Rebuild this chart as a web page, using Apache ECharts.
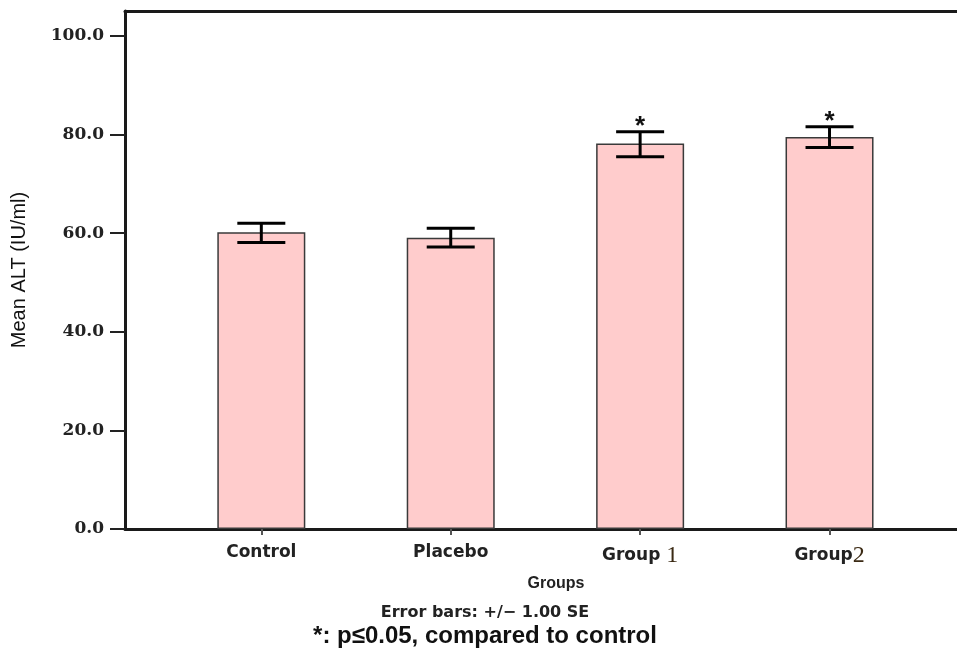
<!DOCTYPE html>
<html>
<head>
<meta charset="utf-8">
<script src="https://cdn.jsdelivr.net/npm/echarts@6/dist/echarts.min.js"></script>
<style>
html,body{margin:0;padding:0;background:#fff;}
#chart{width:957px;height:654px;}
</style>
</head>
<body>
<div id="chart"></div>
<script>
// ---- data ----
var categories = ["Control", "Placebo", "Group 1", "Group2"];
var meanALT = [60.2, 59.1, 78.2, 79.5];
var errUpper = [62.0, 61.0, 80.6, 81.6];
var errLower = [58.1, 57.2, 75.5, 77.4];
var significance = ["", "", "*", "*"];
var yTicks = [0, 20, 40, 60, 80, 100];
var catPositions = [0, 1, 2, 3];

var barData = categories.map(function (c, i) { return [catPositions[i], meanALT[i]]; });
var errData = categories.map(function (c, i) { return [catPositions[i], errLower[i], errUpper[i], i]; });

var chart = echarts.init(document.getElementById('chart'));

var option = {
  animation: false,
  backgroundColor: '#ffffff',
  grid: { left: 125, right: 0, top: 11, bottom: 125 },
  xAxis: [{
    type: 'value',
    min: -0.7197,
    max: 3.673,
    splitLine: { show: false },
    axisLine: { show: true, onZero: false, lineStyle: { color: '#1a1a1a', width: 3 } },
    axisTick: { show: true, customValues: catPositions, length: 6, lineStyle: { color: '#555', width: 2 } },
    axisLabel: {
      customValues: catPositions,
      margin: 15,
      formatter: function (v) {
        var name = categories[Math.round(v)] || '';
        var m = name.match(/^(.*?)(\d)$/);
        if (m) { return '{a|' + m[1] + '}{n|' + m[2] + '}'; }
        return '{a|' + name + '}';
      },
      rich: {
        a: { fontFamily: 'DejaVu Sans', fontWeight: 'bold', fontSize: 17, color: '#222' },
        n: { fontFamily: 'Liberation Serif', fontSize: 24, color: '#3b2a14', verticalAlign: 'bottom' }
      }
    },
    name: 'Groups',
    nameLocation: 'middle',
    nameGap: 47,
    nameTextStyle: { fontFamily: 'Liberation Sans', fontWeight: 'bold', fontSize: 16, color: '#222', padding: [0, 0, 0, 30] }
  }, {
    type: 'value',
    position: 'top',
    min: -0.7197,
    max: 3.673,
    splitLine: { show: false },
    axisLine: { show: true, onZero: false, lineStyle: { color: '#1a1a1a', width: 3 } },
    axisTick: { show: false },
    axisLabel: { show: false }
  }],
  yAxis: {
    type: 'value',
    min: 0,
    max: 105.07,
    splitLine: { show: false },
    axisLine: { show: true, onZero: false, lineStyle: { color: '#1a1a1a', width: 3 } },
    axisTick: { show: true, customValues: yTicks, length: 15, lineStyle: { color: '#222', width: 2 } },
    axisLabel: {
      customValues: yTicks,
      margin: 21,
      formatter: function (v) { return v.toFixed(1); },
      fontFamily: 'DejaVu Serif', fontWeight: 'bold', fontSize: 17, color: '#222'
    },
    name: 'Mean ALT (IU/ml)',
    nameLocation: 'middle',
    nameGap: 96,
    nameTextStyle: { fontFamily: 'Liberation Sans', fontSize: 20, color: '#111' }
  },
  series: [{
    type: 'bar',
    data: barData,
    barWidth: 88,
    itemStyle: { color: '#ffcccc', borderColor: '#3a3a3a', borderWidth: 1.5 },
    z: 2
  }, {
    type: 'custom',
    data: errData,
    z: 5,
    renderItem: function (params, api) {
      var x = api.value(0);
      var lo = api.coord([x, api.value(1)]);
      var hi = api.coord([x, api.value(2)]);
      var half = 24;
      var idx = api.value(3);
      var style = { stroke: '#000', lineWidth: 3 };
      var children = [
        { type: 'line', shape: { x1: hi[0], y1: hi[1], x2: lo[0], y2: lo[1] }, style: style },
        { type: 'line', shape: { x1: hi[0] - half, y1: hi[1], x2: hi[0] + half, y2: hi[1] }, style: style },
        { type: 'line', shape: { x1: lo[0] - half, y1: lo[1], x2: lo[0] + half, y2: lo[1] }, style: style }
      ];
      if (significance[idx]) {
        children.push({
          type: 'text',
          style: {
            text: significance[idx], x: hi[0], y: hi[1] + 8,
            align: 'center', verticalAlign: 'bottom',
            fontFamily: 'Liberation Sans', fontWeight: 'bold', fontSize: 26, fill: '#111'
          }
        });
      }
      return { type: 'group', children: children };
    }
  }],
  graphic: [{
    type: 'text',
    x: 485, y: 613,
    style: {
      text: 'Error bars: +/\u2212 1.00 SE',
      align: 'center', verticalAlign: 'middle',
      fontFamily: 'DejaVu Sans', fontWeight: 'bold', fontSize: 16, fill: '#222'
    }
  }, {
    type: 'text',
    x: 485, y: 636,
    style: {
      text: '*: p\u22640.05, compared to control',
      align: 'center', verticalAlign: 'middle',
      fontFamily: 'Liberation Sans', fontWeight: 'bold', fontSize: 24, fill: '#111'
    }
  }]
};
chart.setOption(option);
</script>
</body>
</html>
